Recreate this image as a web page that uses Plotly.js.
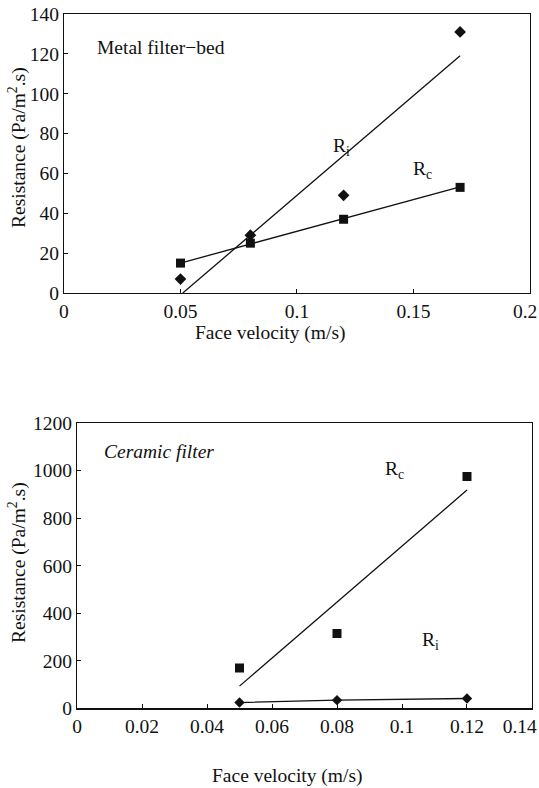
<!DOCTYPE html>
<html>
<head>
<meta charset="utf-8">
<script src="https://cdn.plot.ly/plotly-3.0.1.min.js"></script>
<style>html,body{margin:0;padding:0;background:#fff}#chart{width:539px;height:788px}</style>
</head>
<body>
<div id="chart"></div>
<script>
// Metal filter-bed: face velocity (m/s) vs resistance (Pa/m².s)
const metalVelocity = [0.05, 0.08, 0.12, 0.17];
const metalRc = [15, 25, 37, 53];
const metalRi = [7, 29, 49, 131];
// fitted straight lines (end points)
const metalFitX = [0.05, 0.17];
const metalRcFit = [15, 53.3];
const metalRiFitX = [0.051, 0.17];
const metalRiFit = [0, 119];

// Ceramic filter
const ceramicVelocity = [0.05, 0.08, 0.12];
const ceramicRc = [170, 315, 975];
const ceramicRi = [25, 35, 42];
const ceramicFitX = [0.05, 0.12];
const ceramicRcFit = [94, 918];

// tick labels (the last one is pulled in from the page edge)
const NB = '\u00a0';
const metalTickVals = [0, 0.05, 0.1, 0.15, 0.2];
const metalTickText = ['0', '0.05', '0.1', '0.15', '0.2' + NB + NB];
const ceramicTickVals = [0, 0.02, 0.04, 0.06, 0.08, 0.1, 0.12, 0.14];
const ceramicTickText = ['0', '0.02', '0.04', '0.06', '0.08', '0.1', '0.12', '0.14' + NB.repeat(5)];

const xTitle = 'Face velocity (m/s)';
const yTitle = 'Resistance (Pa/m<sup>2</sup>.s)';

const serif = 'Liberation Serif, serif';
const black = '#111';
const txt = {family: serif, size: 19.5, color: black};

const traces = [
  {x: metalFitX, y: metalRcFit, xaxis: 'x', yaxis: 'y', mode: 'lines', line: {color: black, width: 1.3}},
  {x: metalRiFitX, y: metalRiFit, xaxis: 'x', yaxis: 'y', mode: 'lines', line: {color: black, width: 1.3}},
  {x: metalVelocity, y: metalRc, xaxis: 'x', yaxis: 'y', mode: 'markers', marker: {symbol: 'square', size: 9, color: black}},
  {x: metalVelocity, y: metalRi, xaxis: 'x', yaxis: 'y', mode: 'markers', marker: {symbol: 'diamond', size: 9, color: black}},
  {x: ceramicFitX, y: ceramicRcFit, xaxis: 'x2', yaxis: 'y2', mode: 'lines', line: {color: black, width: 1.3}},
  {x: ceramicVelocity, y: ceramicRi, xaxis: 'x2', yaxis: 'y2', mode: 'lines+markers', line: {color: black, width: 1.3}, marker: {symbol: 'diamond', size: 8, color: black}},
  {x: ceramicVelocity, y: ceramicRc, xaxis: 'x2', yaxis: 'y2', mode: 'markers', marker: {symbol: 'square', size: 9, color: black}}
];

const axisBase = {
  showgrid: false, zeroline: false, showline: true, mirror: true,
  linecolor: black, linewidth: 1.2, ticks: 'inside', ticklen: 4, tickcolor: black,
  ticklabeloverflow: 'allow',
  tickfont: {family: serif, size: 19.5, color: black}, fixedrange: true
};

function note(text, px, py, extra) {
  return Object.assign({text: text, xref: 'paper', yref: 'paper', x: px / 539, y: 1 - py / 788,
    xanchor: 'center', yanchor: 'middle', showarrow: false, font: txt}, extra || {});
}

const layout = {
  width: 539, height: 788,
  margin: {l: 0, r: 0, t: 0, b: 0},
  paper_bgcolor: '#fff', plot_bgcolor: '#fff',
  showlegend: false,
  font: {family: serif, size: 19, color: black},
  xaxis: Object.assign({}, axisBase, {domain: [0.1187, 0.9833], range: [0, 0.2], tickvals: metalTickVals, ticktext: metalTickText, anchor: 'y'}),
  yaxis: Object.assign({}, axisBase, {domain: [0.6282, 0.9822], range: [0, 140], dtick: 20, anchor: 'x'}),
  xaxis2: Object.assign({}, axisBase, {domain: [0.1429, 0.9870], range: [0, 0.14], tickvals: ceramicTickVals, ticktext: ceramicTickText, anchor: 'y2'}),
  yaxis2: Object.assign({}, axisBase, {domain: [0.1009, 0.4632], range: [0, 1200], dtick: 200, anchor: 'x2'}),
  annotations: [
    note('Metal filter\u2212bed', 95, 47, {xanchor: 'left'}),
    note('<i>Ceramic filter</i>', 102, 451, {xanchor: 'left'}),
    note('R<sub>i</sub>', 341, 147),
    note('R<sub>c</sub>', 422, 170),
    note('R<sub>c</sub>', 394, 470),
    note('R<sub>i</sub>', 430, 641),
    note(xTitle, 270, 333),
    note(xTitle, 287, 776),
    note(yTitle, 17, 148, {textangle: -90}),
    note(yTitle, 17, 563, {textangle: -90})
  ]
};

Plotly.newPlot('chart', traces, layout, {staticPlot: true, displayModeBar: false});
</script>
</body>
</html>
